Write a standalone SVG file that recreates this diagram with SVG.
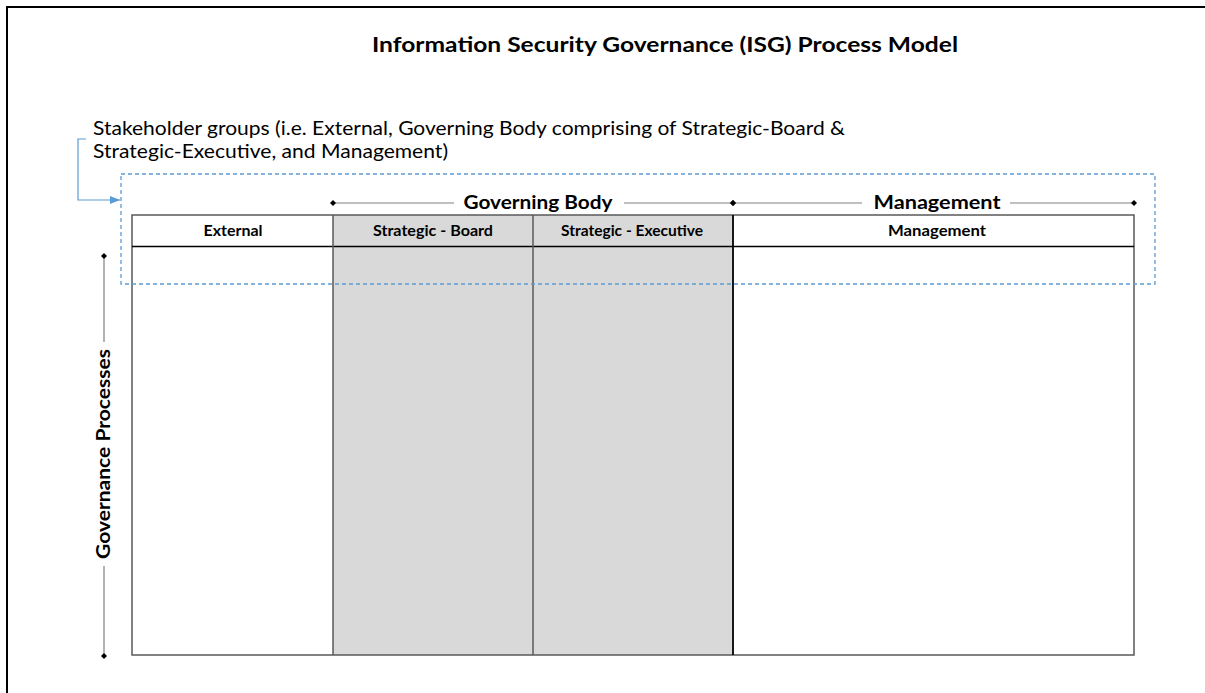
<svg xmlns="http://www.w3.org/2000/svg" width="1205" height="693" viewBox="0 0 1205 693">
<style>
.t{font-family:Lato,"Open Sans","Liberation Sans",sans-serif;fill:#000}
.b{font-weight:bold}
.hdr{font-size:15px;font-weight:bold;text-anchor:middle}
.grp{font-size:19px;font-weight:bold;text-anchor:middle}
.lbl{font-size:19px}
.rule{stroke:#808080;stroke-width:1.2;fill:none}
.cell{stroke:#595959;stroke-width:1.5}
</style>
<defs>
<marker id="dot" viewBox="0 0 8 8" refX="4" refY="4" markerWidth="6" markerHeight="6" markerUnits="userSpaceOnUse" orient="auto">
<path d="M4,0 L8,4 L4,8 L0,4 Z" fill="#000"/>
</marker>
<marker id="arr" viewBox="0 0 10 10" refX="10" refY="5" markerWidth="10" markerHeight="10" markerUnits="userSpaceOnUse" orient="auto">
<path d="M0,1 L10,5 L0,9 Z" fill="#5b9bd5"/>
</marker>
</defs>
<rect x="7" y="7" width="1220" height="720" fill="#fff" stroke="#000" stroke-width="2"/>
<g id="title">
<text class="t b" x="665" y="52" font-size="21" text-anchor="middle" textLength="586" lengthAdjust="spacingAndGlyphs">Information Security Governance (ISG) Process Model</text>
</g>
<g id="stakeholder-note">
<text class="t lbl" x="93" y="135" textLength="752" lengthAdjust="spacingAndGlyphs">Stakeholder groups (i.e. External, Governing Body comprising of Strategic-Board &amp;</text>
<text class="t lbl" x="93" y="158" textLength="355" lengthAdjust="spacingAndGlyphs">Strategic-Executive, and Management)</text>
</g>
<g id="table">
<rect x="333" y="215" width="400" height="440" fill="#d9d9d9"/>
<rect x="132" y="215" width="1002" height="440" fill="none" class="cell"/>
<line x1="132" y1="246.5" x2="1134" y2="246.5" stroke="#000" stroke-width="1.3"/>
<line x1="333" y1="215" x2="333" y2="655" class="cell"/>
<line x1="533" y1="215" x2="533" y2="655" class="cell"/>
<line x1="733" y1="215" x2="733" y2="655" stroke="#000" stroke-width="1.8"/>
</g>
<g id="col-external"><text class="t hdr" x="233" y="236" textLength="59" lengthAdjust="spacingAndGlyphs">External</text></g>
<g id="col-board"><text class="t hdr" x="433" y="236" textLength="120" lengthAdjust="spacingAndGlyphs">Strategic - Board</text></g>
<g id="col-executive"><text class="t hdr" x="632" y="236" textLength="142" lengthAdjust="spacingAndGlyphs">Strategic - Executive</text></g>
<g id="col-management"><text class="t hdr" x="937" y="236" textLength="98" lengthAdjust="spacingAndGlyphs">Management</text></g>
<g id="stakeholder-box">
<rect x="121" y="174" width="1034" height="110" fill="none" stroke="#5b9bd5" stroke-width="1.3" stroke-dasharray="4,3"/>
</g>
<g id="governing-body-label"><text class="t grp" x="538" y="209" textLength="149" lengthAdjust="spacingAndGlyphs">Governing Body</text></g>
<g id="management-label"><text class="t grp" x="937" y="209" textLength="127" lengthAdjust="spacingAndGlyphs">Management</text></g>
<g id="governance-processes-label"><text class="t grp" transform="translate(110,454) rotate(-90)" textLength="210" lengthAdjust="spacingAndGlyphs">Governance Processes</text></g>
<g id="connectors">
<path d="M86,139 H78 V200 H120" fill="none" stroke="#5b9bd5" stroke-width="1.2" marker-end="url(#arr)"/>
<line x1="333" y1="203" x2="454" y2="203" class="rule" marker-start="url(#dot)"/>
<line x1="624" y1="203" x2="733" y2="203" class="rule" marker-end="url(#dot)"/>
<line x1="733" y1="203" x2="862" y2="203" class="rule" marker-start="url(#dot)"/>
<line x1="1010" y1="203" x2="1134" y2="203" class="rule" marker-end="url(#dot)"/>
<line x1="104" y1="256" x2="104" y2="342" class="rule" marker-start="url(#dot)"/>
<line x1="104" y1="566" x2="104" y2="656" class="rule" marker-end="url(#dot)"/>
</g>
</svg>
